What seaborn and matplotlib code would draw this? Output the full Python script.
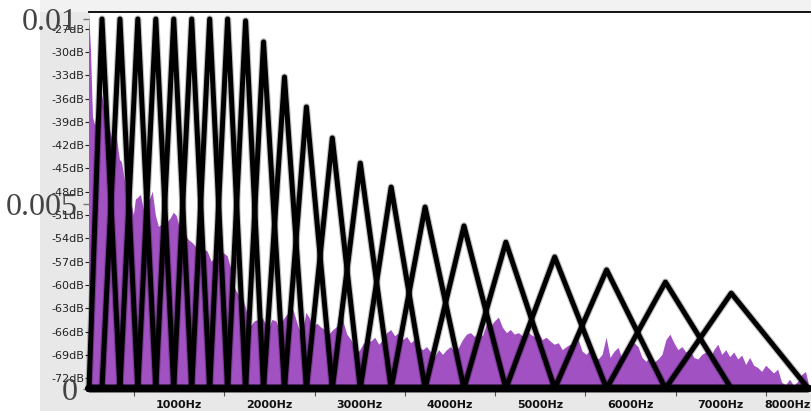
import matplotlib
matplotlib.use("Agg")
import matplotlib.pyplot as plt
import matplotlib.patheffects as pe
from matplotlib.patches import Rectangle
from matplotlib.ticker import FixedLocator
import pandas as pd
import seaborn as sns

# spectrum (Audacity frequency analysis)
spec_hz = [0, 22, 44, 66, 88, 110, 133, 155, 177, 199,
           232, 254, 276, 298, 320, 343, 365, 387, 409, 431,
           453, 475, 497, 519, 541, 575, 608, 641, 674, 707,
           740, 774, 807, 840, 873, 906, 939, 972, 1006, 1039,
           1072, 1105, 1149, 1193, 1238, 1282, 1315, 1359, 1403, 1448,
           1492, 1536, 1580, 1624, 1669, 1713, 1757, 1790, 1834, 1879,
           1923, 1956, 2000, 2033, 2077, 2111, 2155, 2199, 2232, 2265,
           2298, 2332, 2376, 2409, 2442, 2486, 2530, 2575, 2619, 2663,
           2707, 2751, 2796, 2829, 2862, 2906, 2950, 2995, 3039, 3083,
           3127, 3171, 3216, 3260, 3304, 3348, 3392, 3437, 3481, 3525,
           3569, 3613, 3658, 3702, 3746, 3790, 3834, 3879, 3923, 3967,
           4011, 4055, 4100, 4144, 4188, 4232, 4276, 4321, 4365, 4409,
           4453, 4497, 4542, 4586, 4630, 4674, 4718, 4763, 4807, 4851,
           4895, 4939, 4984, 5028, 5072, 5116, 5160, 5205, 5249, 5293,
           5337, 5381, 5426, 5470, 5514, 5558, 5602, 5647, 5691, 5735,
           5779, 5823, 5868, 5912, 5956, 6000, 6044, 6089, 6133, 6177,
           6221, 6265, 6310, 6354, 6398, 6442, 6486, 6531, 6575, 6619,
           6663, 6707, 6752, 6796, 6840, 6884, 6928, 6973, 7017, 7061,
           7105, 7149, 7194, 7238, 7282, 7326, 7370, 7415, 7459, 7503,
           7547, 7591, 7636, 7680, 7724, 7768, 7812, 7857, 7901, 7945,
           7978]
spec_db = [-24.9, -29.7, -38.4, -39.4, -37.5, -35.5, -35.1, -36.2, -37.9, -38.8,
           -40.0, -41.1, -41.3, -40.4, -42.0, -43.9, -44.2, -45.8, -47.5, -49.0,
           -51.0, -49.7, -51.0, -49.0, -48.8, -48.4, -50.3, -49.7, -49.0, -48.0,
           -51.0, -52.5, -52.3, -52.9, -51.9, -51.4, -50.7, -51.1, -52.7, -53.8,
           -53.6, -54.2, -54.6, -55.2, -56.1, -55.5, -55.7, -57.0, -56.5, -56.3,
           -55.9, -56.3, -58.1, -60.6, -61.5, -61.9, -63.8, -65.4, -64.7, -64.5,
           -64.2, -65.0, -65.5, -64.5, -64.7, -65.8, -64.5, -63.8, -63.6, -63.2,
           -64.5, -65.8, -65.5, -63.6, -64.2, -65.4, -65.0, -65.5, -65.8, -66.4,
           -65.8, -65.4, -61.9, -65.1, -66.4, -67.1, -68.1, -68.6, -67.7, -67.1,
           -67.3, -66.8, -67.7, -67.1, -66.2, -65.8, -66.6, -66.2, -67.1, -66.7,
           -67.5, -67.1, -68.0, -68.4, -68.0, -68.7, -69.3, -68.4, -69.0, -68.4,
           -68.0, -68.7, -68.1, -67.1, -66.4, -66.2, -66.7, -66.2, -66.6, -65.1,
           -65.4, -64.7, -64.2, -65.5, -66.2, -65.8, -66.4, -66.2, -66.6, -65.8,
           -66.4, -66.7, -66.2, -67.1, -66.8, -67.3, -67.7, -67.5, -68.4, -68.0,
           -67.7, -68.1, -67.1, -68.6, -69.0, -68.4, -69.1, -69.6, -69.0, -66.8,
           -69.4, -68.6, -68.1, -69.6, -68.6, -68.0, -67.5, -68.0, -69.4, -69.9,
           -69.3, -70.0, -69.6, -69.0, -67.1, -66.4, -67.5, -68.4, -68.0, -68.7,
           -68.4, -69.4, -69.6, -69.0, -68.7, -69.6, -68.4, -67.7, -69.0, -68.4,
           -69.3, -68.7, -69.6, -69.1, -70.3, -69.4, -70.4, -70.7, -71.2, -70.4,
           -70.9, -71.4, -70.9, -72.6, -72.9, -72.2, -73.0, -72.5, -71.6, -71.2,
           -72.9]

# triangular filterbank: centre frequency and peak weight of each band
filt_center_hz = [144, 343, 541, 740, 939, 1138, 1337, 1536, 1735, 1934, 2166,
                  2409, 2696, 3006, 3348, 3724, 4155, 4619, 5160, 5735, 6387, 7116]
filt_height = [0.0100, 0.0100, 0.0100, 0.0100, 0.0100, 0.0100, 0.0100, 0.0100,
               0.00995, 0.00938, 0.00843, 0.00762, 0.00678, 0.00610, 0.00545,
               0.00491, 0.00440, 0.00396, 0.00356, 0.00321, 0.00288, 0.00258]
band_lo_hz = 0
band_hi_hz = 7970

db_ticks = [-27, -30, -33, -36, -39, -42, -45, -48, -51, -54, -57, -60, -63, -66, -69, -72]
hz_ticks = [1000, 2000, 3000, 4000, 5000, 6000, 7000, 8000]
hz_minor = [500, 1500, 2500, 3500, 4500, 5500, 6500, 7500]
level_ticks = [0, 0.005, 0.01]
level_labels = ["0", "0.005", "0.01"]

sns.set_style("white")
plt.rcParams["font.family"] = ["DejaVu Sans"]

W, H = 812, 411
fig = plt.figure(figsize=(W / 100, H / 100), dpi=100)


def box(x0, y0, x1, y1):
    # pixel box (y measured from the top) -> figure fraction rect
    return [x0 / W, 1 - y1 / H, (x1 - x0) / W, (y1 - y0) / H]


# grey window chrome of the screenshot behind everything
for b, col in [((40, 0, 812, 12), "#f2f2f2"),
               ((40, 12, 89, 411), "#e8e8e8"),
               ((40, 389, 812, 411), "#e8e8e8")]:
    x, y, w, h = box(*b)
    fig.add_artist(Rectangle((x, y), w, h, transform=fig.transFigure,
                             color=col, lw=0, zorder=-5))

# spectrum panel
ax = fig.add_axes(box(89, 12, 811, 389))
ax.set_facecolor("white")
ax.fill_between(spec_hz, spec_db, -80, color="#a151c1", lw=0)
ax.set_xlim(0, 8000)
ax.set_ylim(-73.4, -24.85)
ax.set_yticks(db_ticks, [f"{v}dB" for v in db_ticks])
ax.set_xticks(hz_ticks, [f"{v}Hz" for v in hz_ticks], fontweight="bold")
ax.xaxis.set_minor_locator(FixedLocator(hz_minor))
ax.tick_params(axis="y", left=True, direction="out", length=3, width=0.8,
               pad=0.5, labelsize=8, colors="#222222")
ax.tick_params(axis="x", which="major", bottom=True, length=0, pad=8,
               labelsize=8, labelcolor="#111111")
ax.tick_params(axis="x", which="minor", bottom=True, direction="out",
               length=5, width=0.8, color="#555555")
ax.get_xticklabels()[-1].set_horizontalalignment("right")
for side in ["left", "bottom"]:
    ax.spines[side].set_visible(False)
ax.spines["top"].set_color("black")
ax.spines["top"].set_linewidth(1.3)
ax.spines["right"].set_color("#dddddd")

# filterbank overlay
pts = [band_lo_hz] + filt_center_hz + [band_hi_hz]
rows = []
for i, (c, h) in enumerate(zip(filt_center_hz, filt_height)):
    for hz, w in zip([band_lo_hz, pts[i], c, pts[i + 2], band_hi_hz], [0, 0, h, 0, 0]):
        rows.append({"band": i, "hz": hz, "w": w})
fb = pd.DataFrame(rows)

fax = fig.add_axes(ax.get_position(), facecolor="none")
sns.lineplot(data=fb, x="hz", y="w", units="band", estimator=None, sort=False,
             color="black", lw=3.6, legend=False, ax=fax)
for ln in fax.lines:
    ln.set_clip_on(False)
    # soft grey halo like the resampled screenshot
    ln.set_path_effects([pe.Stroke(linewidth=5.2, foreground="#000000", alpha=0.25),
                         pe.Normal()])
fax.set_xlim(0, 8000)
fax.set_ylim(-0.0000135, 0.010189)
fax.xaxis.set_visible(False)
fax.set_ylabel("")
fax.set_yticks(level_ticks, level_labels, family=["Liberation Serif", "DejaVu Serif"])
fax.tick_params(axis="y", left=True, direction="out", length=4, width=1,
                color="#777777", pad=4, labelsize=23, labelcolor="#444444")
for s in fax.spines.values():
    s.set_visible(False)

fig.savefig("out.png", dpi=100)
